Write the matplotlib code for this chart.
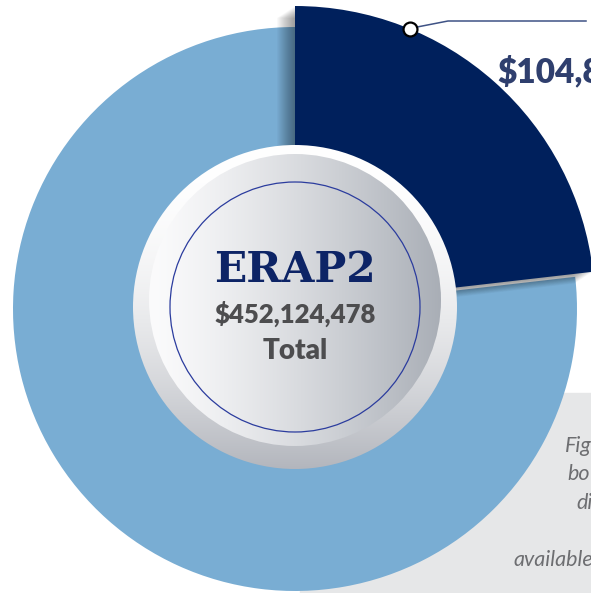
import numpy as np
import matplotlib
matplotlib.use("Agg")
import matplotlib.pyplot as plt
from matplotlib.patches import Wedge, Circle, Rectangle

# data
slice_labels = ["Highlighted", "Other"]
total_value = 452124478
highlight_value = 104800000
slice_values = [highlight_value, total_value - highlight_value]
slice_colors = ["#00205c", "#79add3"]

center_title = "ERAP2"
center_amount = "$452,124,478"
center_caption = "Total"
callout_text = "$104,8"
note_lines = ["Fig", "bo", "di", "", "available"]

W, H = 591, 593

fig = plt.figure(figsize=(W / 100, H / 100), dpi=100)
ax = fig.add_axes([0, 0, 1, 1])
ax.set_xlim(0, W)
ax.set_ylim(0, H)
ax.axis("off")


def py(y):
    # pixel row (from top) -> data y
    return H - y


# grey note box behind the donut
ax.add_patch(Rectangle((300, py(H)), W - 300, H - 393, color="#e6e7e8", zorder=0))

# wedge angles from the values (clockwise from 12 o'clock)
frac = np.array(slice_values) / sum(slice_values)
ends = 90 - 360 * np.cumsum(frac)
starts = np.r_[90, ends[:-1]]

# big light slice
ax.add_patch(Wedge((295, py(309)), 282, ends[1], starts[1], width=150,
                   color=slice_colors[1], zorder=1, lw=0))

# soft shadow under the highlighted slice
for k in range(1, 19):
    ax.add_patch(Wedge((295 - k, py(306) - 0.65 * k), 300, ends[0], starts[0], width=170,
                       color="black", alpha=0.022, zorder=2, lw=0))

ax.add_patch(Wedge((295, py(306)), 300, ends[0], starts[0], width=170,
                   color=slice_colors[0], zorder=3, lw=0))

# outer ring of the centre button (vertical gradient)
n = 300
ring = Circle((295, py(307)), 162, transform=ax.transData, fc="none", ec="none", zorder=4)
ax.add_patch(ring)
t = np.linspace(0, 1, n)[:, None] ** 2.0
top = np.array([1.0, 1.0, 1.0])
bot = np.array([0xb3, 0xb6, 0xbd]) / 255
grad = top + (bot - top) * t[..., None]
grad = np.repeat(grad, 2, axis=1)
im = ax.imshow(grad, extent=(295 - 162, 295 + 162, py(307) - 162, py(307) + 162),
               origin="upper", zorder=4, aspect="auto", interpolation="bilinear")
im.set_clip_path(ring)

# inner disc (horizontal gradient)
disc = Circle((295, py(300)), 146, transform=ax.transData, fc="none", ec="none", zorder=5)
ax.add_patch(disc)
s = np.linspace(0, 1, n)[None, :] ** 1.3
left = np.array([0xfb, 0xfb, 0xfc]) / 255
right = np.array([0xa9, 0xae, 0xb6]) / 255
grad2 = left + (right - left) * s[..., None]
grad2 = np.repeat(grad2, 2, axis=0)
im2 = ax.imshow(grad2, extent=(295 - 146, 295 + 146, py(300) - 146, py(300) + 146),
                origin="upper", zorder=5, aspect="auto", interpolation="bilinear")
im2.set_clip_path(disc)

ax.add_patch(Circle((295, py(307)), 125, fc="none", ec="#2b3c9e", lw=0.9, zorder=6))

# centre labels
ax.text(295, py(282), center_title, ha="center", va="baseline", fontsize=30.5,
        family="DejaVu Serif", weight="bold", color="#0d2466", zorder=7)
ax.text(295, py(323), center_amount, ha="center", va="baseline", fontsize=18.5,
        family="Lato", weight="heavy", color="#4d4d4f", zorder=7)
ax.text(295, py(359), center_caption, ha="center", va="baseline", fontsize=20,
        family="Lato", weight="heavy", color="#4d4d4f", zorder=7)

# callout for the highlighted slice
ax.plot([412, 448, 586], [py(28), py(21), py(21)], color="#3e5285", lw=1.1, zorder=8)
ax.plot([410], [py(29)], marker="o", ms=10, mfc="white", mec="black", mew=1.6, zorder=9)
ax.text(497, py(82), callout_text, ha="left", va="baseline", fontsize=24,
        family="Lato", weight="heavy", color="#2f3f6e", zorder=8)

# note text (runs off the right edge)
note_x = [565, 567, 576, 0, 513]
for i, (line, x) in enumerate(zip(note_lines, note_x)):
    if line:
        ax.text(x, py(452 + 28.5 * i), line, ha="left", va="baseline", fontsize=15.5,
                family="Lato", style="italic", color="#6d6e71", zorder=8)

fig.savefig("out.png", dpi=100)
